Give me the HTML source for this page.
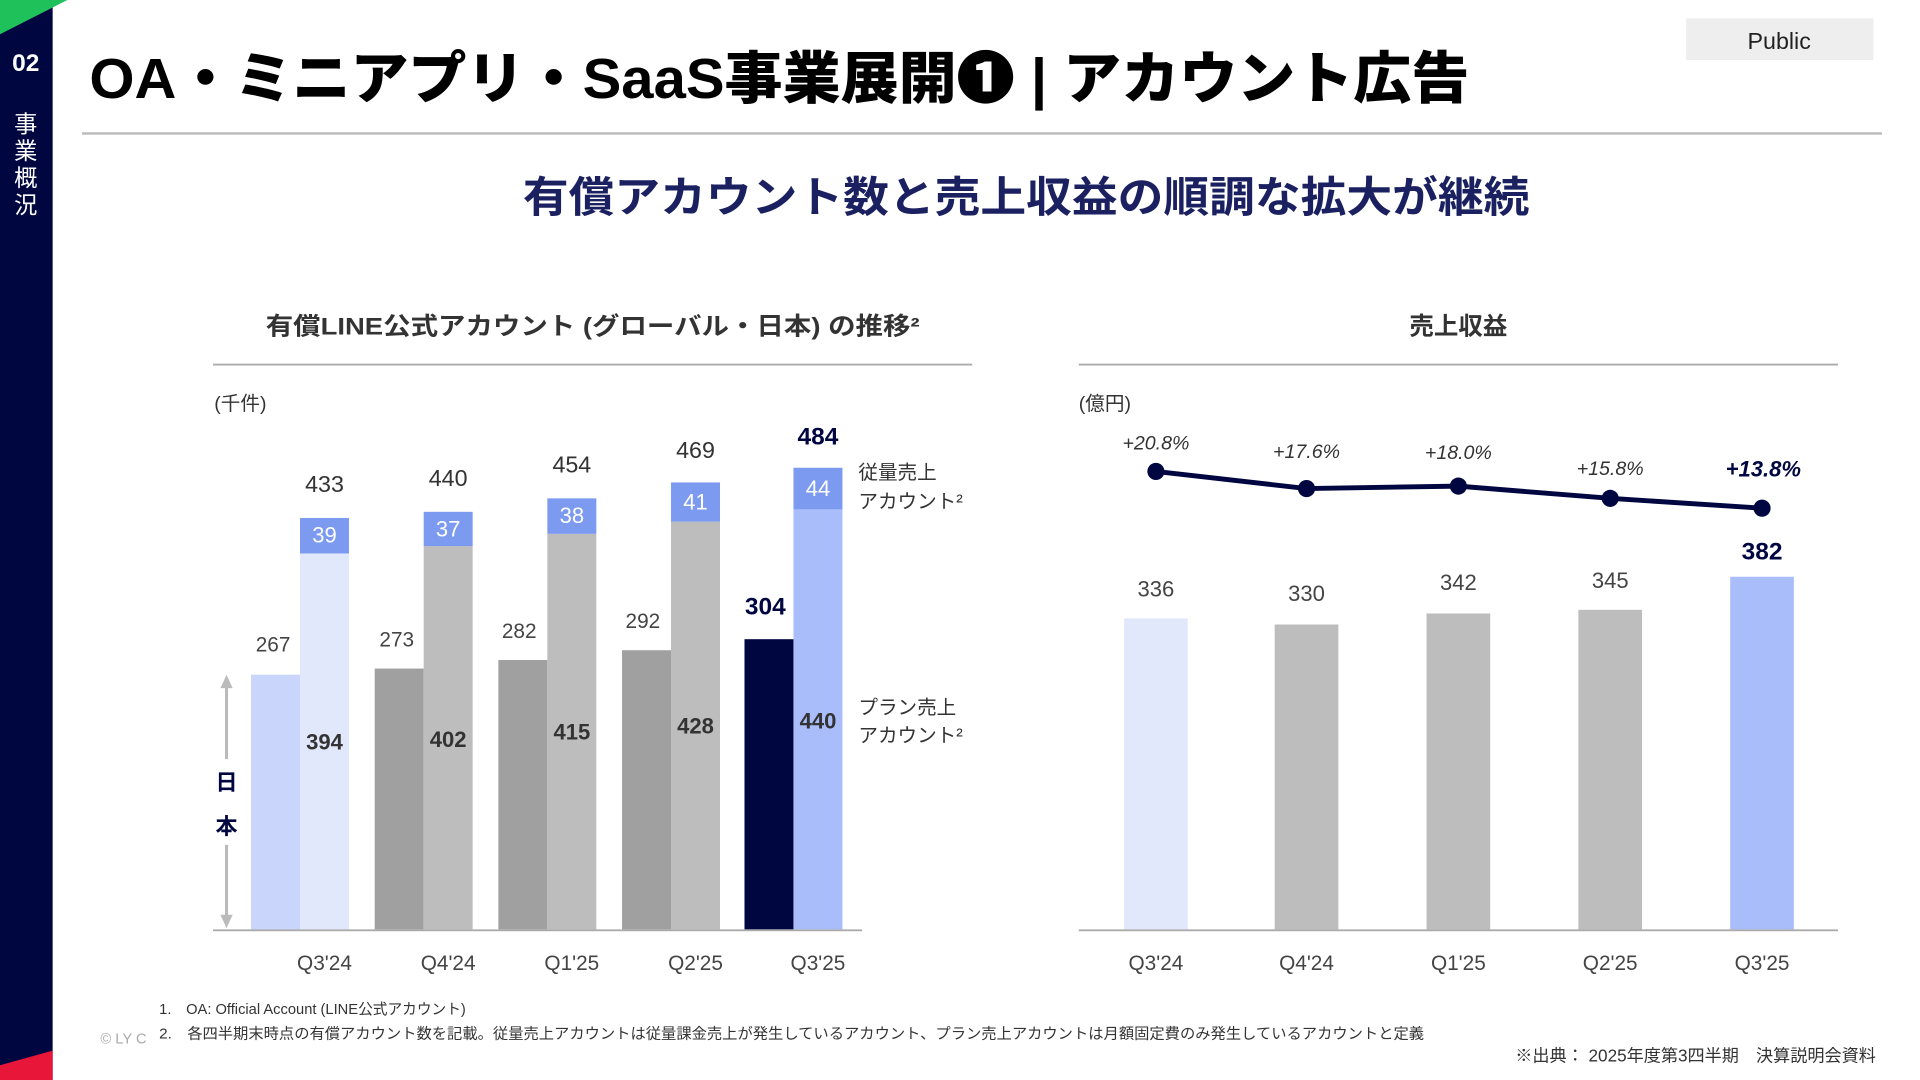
<!DOCTYPE html>
<html><head><meta charset="utf-8"><style>
html,body{margin:0;padding:0;background:#fff;}
svg{display:block;font-family:"Liberation Sans","Noto Sans CJK JP",sans-serif;}
</style></head><body>
<svg width="1920" height="1080" viewBox="0 0 1568 882" xmlns="http://www.w3.org/2000/svg">
<rect x="0" y="0" width="1568" height="882" fill="#fff"/>
<rect x="0" y="0" width="43" height="882" fill="#000640"/>
<polygon points="0,0 55,0 0,28" fill="#1fc25a"/>
<polygon points="0,882 43,882 43,858 0,870" fill="#e8173a"/>
<text x="21" y="58" fill="#fff" font-size="20" font-weight="bold" text-anchor="middle">02</text>
<g fill="#fff" font-size="19" text-anchor="middle" font-family="Noto Sans CJK JP,sans-serif">
<text x="21" y="108">事</text><text x="21" y="130">業</text><text x="21" y="152">概</text><text x="21" y="174">況</text></g>
<text x="73" y="80" font-size="46" font-weight="900" fill="#000" textLength="1127" lengthAdjust="spacingAndGlyphs">OA・ミニアプリ・SaaS事業展開❶ | アカウント広告</text>
<rect x="1377" y="15" width="153" height="34" fill="#eeeeee"/>
<text x="1453" y="40" font-size="19" fill="#222" text-anchor="middle">Public</text>
<rect x="67" y="108" width="1470" height="2" fill="#bbb"/>
<text x="427" y="173" font-size="35" font-weight="bold" fill="#1a2060" textLength="822" lengthAdjust="spacingAndGlyphs">有償アカウント数と売上収益の順調な拡大が継続</text>

<text x="217" y="273" font-size="20" font-weight="bold" fill="#333" textLength="534" lengthAdjust="spacingAndGlyphs">有償LINE公式アカウント (グローバル・日本) の推移²</text>
<rect x="174" y="297" width="620" height="1.5" fill="#aaa"/>
<text x="1191" y="273" font-size="20" font-weight="bold" fill="#333" text-anchor="middle">売上収益</text>
<rect x="881" y="297" width="620" height="1.5" fill="#aaa"/>
<text x="175" y="335" font-size="16" fill="#333">(千件)</text>
<text x="881" y="335" font-size="16" fill="#333">(億円)</text>

<rect x="205" y="551" width="40" height="208" fill="#c9d5fb"/>
<rect x="245" y="452" width="40" height="307" fill="#e2e8fb"/>
<rect x="245" y="423" width="40" height="29" fill="#7c9af0"/>
<rect x="306" y="546" width="40" height="213" fill="#a0a0a0"/>
<rect x="346" y="446" width="40" height="313" fill="#bdbdbd"/>
<rect x="346" y="418" width="40" height="28" fill="#7c9af0"/>
<rect x="407" y="539" width="40" height="220" fill="#a0a0a0"/>
<rect x="447" y="436" width="40" height="323" fill="#bdbdbd"/>
<rect x="447" y="407" width="40" height="29" fill="#7c9af0"/>
<rect x="508" y="531" width="40" height="228" fill="#a0a0a0"/>
<rect x="548" y="426" width="40" height="333" fill="#bdbdbd"/>
<rect x="548" y="394" width="40" height="32" fill="#7c9af0"/>
<rect x="608" y="522" width="40" height="237" fill="#000640"/>
<rect x="648" y="416" width="40" height="343" fill="#a9bdfb"/>
<rect x="648" y="382" width="40" height="34" fill="#7c9af0"/>
<rect x="174" y="759" width="530" height="1.5" fill="#aaa"/>

<g font-size="18" fill="#fff" text-anchor="middle">
<text x="265" y="443">39</text><text x="366" y="438">37</text><text x="467" y="427">38</text><text x="568" y="416">41</text><text x="668" y="405">44</text></g>
<g font-size="19" fill="#333" text-anchor="middle">
<text x="265" y="402">433</text><text x="366" y="397">440</text><text x="467" y="386">454</text><text x="568" y="374">469</text></g>
<text x="668" y="363" font-size="20" font-weight="bold" fill="#000640" text-anchor="middle">484</text>
<g font-size="17" fill="#444" text-anchor="middle">
<text x="223" y="532">267</text><text x="324" y="528">273</text><text x="424" y="521">282</text><text x="525" y="513">292</text></g>
<text x="625" y="502" font-size="20" font-weight="bold" fill="#000640" text-anchor="middle">304</text>
<g font-size="18" font-weight="bold" fill="#333" text-anchor="middle">
<text x="265" y="612">394</text><text x="366" y="610">402</text><text x="467" y="604">415</text><text x="568" y="599">428</text><text x="668" y="595">440</text></g>
<g font-size="17" fill="#444" text-anchor="middle">
<text x="265" y="792">Q3'24</text><text x="366" y="792">Q4'24</text><text x="467" y="792">Q1'25</text><text x="568" y="792">Q2'25</text><text x="668" y="792">Q3'25</text></g>
<g font-size="16" fill="#333">
<text x="701" y="391">従量売上</text><text x="701" y="415">アカウント²</text>
<text x="701" y="583">プラン売上</text><text x="701" y="606">アカウント²</text></g>
<line x1="185" y1="558" x2="185" y2="620" stroke="#bbb" stroke-width="2.5"/>
<line x1="185" y1="690" x2="185" y2="752" stroke="#bbb" stroke-width="2.5"/>
<polygon points="185,551 180,562 190,562" fill="#bbb"/>
<polygon points="185,758 180,747 190,747" fill="#bbb"/>
<text x="185" y="645" font-size="18" font-weight="bold" fill="#000640" text-anchor="middle">日</text>
<text x="185" y="681" font-size="18" font-weight="bold" fill="#000640" text-anchor="middle">本</text>

<rect x="918" y="505" width="52" height="254" fill="#e2e8fb"/>
<rect x="1041" y="510" width="52" height="249" fill="#bdbdbd"/>
<rect x="1165" y="501" width="52" height="258" fill="#bdbdbd"/>
<rect x="1289" y="498" width="52" height="261" fill="#bdbdbd"/>
<rect x="1413" y="471" width="52" height="288" fill="#a9bdfb"/>
<rect x="881" y="759" width="620" height="1.5" fill="#aaa"/>
<g font-size="18" fill="#444" text-anchor="middle">
<text x="944" y="487">336</text><text x="1067" y="491">330</text><text x="1191" y="482">342</text><text x="1315" y="480">345</text></g>
<text x="1439" y="457" font-size="20" font-weight="bold" fill="#000640" text-anchor="middle">382</text>
<polyline points="944,385 1067,399 1191,397 1315,407 1439,415" fill="none" stroke="#000640" stroke-width="4"/>
<g fill="#000640"><circle cx="944" cy="385" r="7"/><circle cx="1067" cy="399" r="7"/><circle cx="1191" cy="397" r="7"/><circle cx="1315" cy="407" r="7"/><circle cx="1439" cy="415" r="7"/></g>
<g font-size="16" font-style="italic" fill="#333" text-anchor="middle">
<text x="944" y="367">+20.8%</text><text x="1067" y="374">+17.6%</text><text x="1191" y="375">+18.0%</text><text x="1315" y="388">+15.8%</text></g>
<text x="1440" y="389" font-size="18" font-weight="bold" font-style="italic" fill="#000640" text-anchor="middle">+13.8%</text>
<g font-size="17" fill="#444" text-anchor="middle">
<text x="944" y="792">Q3'24</text><text x="1067" y="792">Q4'24</text><text x="1191" y="792">Q1'25</text><text x="1315" y="792">Q2'25</text><text x="1439" y="792">Q3'25</text></g>

<g font-size="12" fill="#333">
<text x="130" y="828">1.　OA: Official Account (LINE公式アカウント)</text>
<text x="130" y="848" textLength="1033" lengthAdjust="spacingAndGlyphs">2.　各四半期末時点の有償アカウント数を記載。従量売上アカウントは従量課金売上が発生しているアカウント、プラン売上アカウントは月額固定費のみ発生しているアカウントと定義</text></g>
<text x="82" y="852" font-size="12" fill="#aaa">© LY C</text>
<text x="1532" y="867" font-size="14" fill="#333" text-anchor="end">※出典： 2025年度第3四半期　決算説明会資料</text>
</svg>
</body></html>
